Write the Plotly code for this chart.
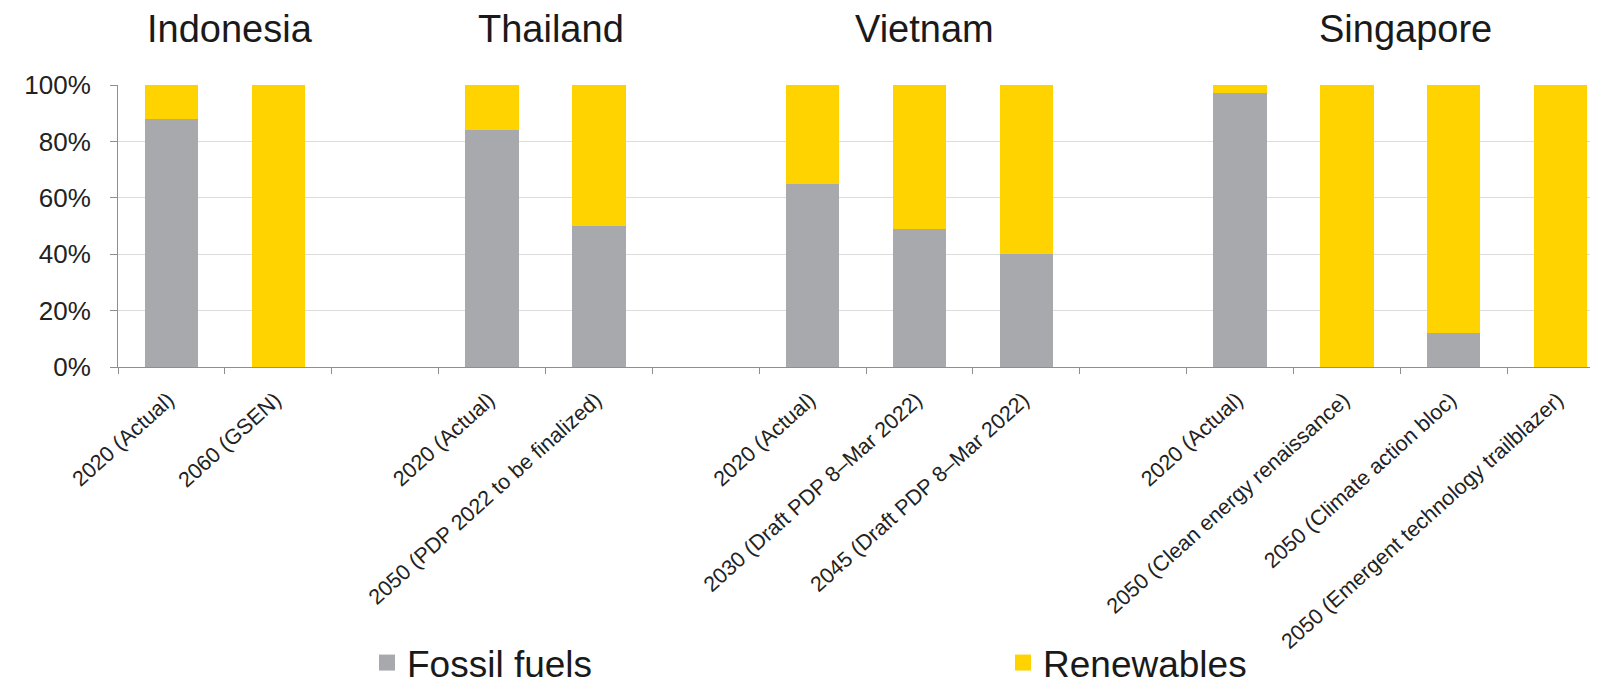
import plotly.graph_objects as go

# ---- data ----
countries = ["Indonesia", "Thailand", "Vietnam", "Singapore"]
scenarios = [
    ["2020 (Actual)", "2060 (GSEN)"],
    ["2020 (Actual)", "2050 (PDP 2022 to be finalized)"],
    ["2020 (Actual)", "2030 (Draft PDP 8–Mar 2022)", "2045 (Draft PDP 8–Mar 2022)"],
    ["2020 (Actual)", "2050 (Clean energy renaissance)", "2050 (Climate action bloc)",
     "2050 (Emergent technology trailblazer)"],
]
fossil = [[88, 0], [84, 50], [65, 49, 40], [97, 0, 12, 0]]
renewables = [[12, 100], [16, 50], [35, 51, 60], [3, 100, 88, 100]]
series_names = ["Fossil fuels", "Renewables"]
y_ticks = [0, 20, 40, 60, 80, 100]
y_tick_text = ["0%", "20%", "40%", "60%", "80%", "100%"]

# ---- layout of slots (one empty slot between countries) ----
xpos, labels, fos, ren, centers = [], [], [], [], []
slot = 0
for g, sc in enumerate(scenarios):
    start = slot
    for i, s in enumerate(sc):
        xpos.append(slot)
        labels.append(s)
        fos.append(fossil[g][i])
        ren.append(renewables[g][i])
        slot += 1
    centers.append((start + slot - 1) / 2)
    slot += 1

GRAY = "#A8A9AC"
YELLOW = "#FFD300"
FONT = "Liberation Sans, Arial, sans-serif"

fig = go.Figure()
for name, vals, col in zip(series_names, [fos, ren], [GRAY, YELLOW]):
    fig.add_trace(go.Bar(x=xpos, y=vals, name=name, marker_color=col,
                         marker_line_width=0, width=0.5, showlegend=False,
                         legendgroup=name))
# legend entries (larger square swatches)
for name, col in zip(series_names, [GRAY, YELLOW]):
    fig.add_trace(go.Scatter(x=[None], y=[None], mode="markers", name=name,
                             legendgroup=name,
                             marker=dict(symbol="square", size=16, color=col)))

for c, name in zip(centers, countries):
    fig.add_annotation(x=c + 0.05, y=1.2, xref="x", yref="paper", text=name,
                       showarrow=False, xanchor="center", yanchor="middle",
                       font=dict(size=38, color="#1a1a1a", family=FONT))

fig.update_layout(
    width=1590, height=678,
    margin=dict(l=110, r=0, t=77, b=319, autoexpand=False),
    barmode="stack",
    plot_bgcolor="white", paper_bgcolor="white",
    font=dict(family=FONT, color="#222222"),
    legend=dict(orientation="h", xref="container", yref="container",
                x=0.2258, xanchor="left", y=0.0339, yanchor="middle",
                bgcolor="rgba(0,0,0,0)",
                font=dict(size=37, color="#1a1a1a", family=FONT),
                entrywidth=591, entrywidthmode="pixels", itemsizing="trace",
                traceorder="normal"),
    xaxis=dict(range=[-0.5, 13.35], tickmode="array", tickvals=xpos, ticktext=labels,
               tickangle=-42, ticks="", showgrid=False, zeroline=False,
               showline=True, linecolor="#8f8f8f", linewidth=1, automargin=False,
               ticklabelshift=-3, ticklabelstandoff=11,
               tickfont=dict(size=21.5, color="#222222", family=FONT),
               minor=dict(ticks="outside", tick0=-0.5, dtick=1, ticklen=6,
                          tickcolor="#8f8f8f", showgrid=False)),
    yaxis=dict(range=[0, 100], tickmode="array", tickvals=y_ticks, ticktext=y_tick_text,
               ticks="outside", ticklen=7, tickcolor="#8f8f8f", automargin=False,
               showline=True, linecolor="#8f8f8f", linewidth=1,
               showgrid=True, gridcolor="#DCDCDC", gridwidth=1, zeroline=False,
               ticklabelstandoff=14,
               tickfont=dict(size=26, color="#222222", family=FONT)),
)

fig.write_html("out.html")
